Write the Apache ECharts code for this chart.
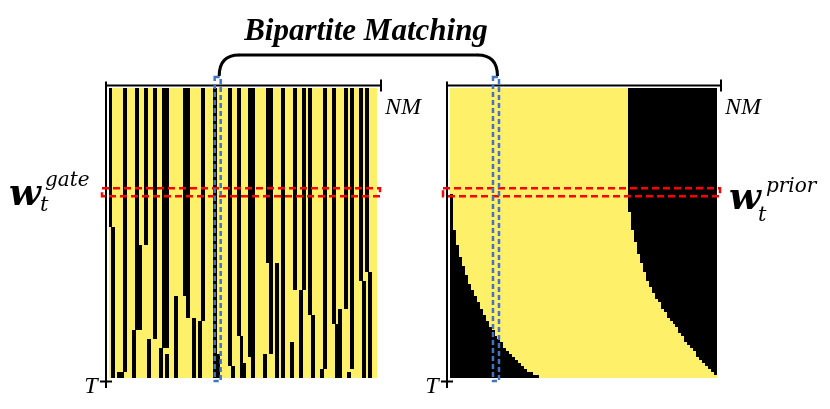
<!DOCTYPE html>
<html><head><meta charset="utf-8">
<script src="https://cdn.jsdelivr.net/npm/echarts@6/dist/echarts.min.js"></script>
<style>html,body{margin:0;padding:0;background:#fff}#c{width:830px;height:409px}</style>
</head><body><div id="c"></div>
<script>
// ---- data (grid units: columns 0..NM, rows 0..T) ----
const NM = 90, T = 96;
// gate map: black segments [column, width, startRow, endRow]
const gateSegments = [
  [0,1,0,46],[1,1,46,96],[3,1,94,96],
  [5,1,0,94],[4,1,94,96],
  [9,1,0,52],[9,2,52,80],[8,1,80,96],
  [12,1,0,52],
  [15,1,0,83],[13,1,83,96],
  [18,2,0,86],[17,1,86,96],[19,1,88,96],
  [25,2,0,69],[26,1,69,76],[22,1,69,96],[28,1,76,96],
  [31,1,0,77],[30,1,77,96],
  [35,1,0,96],[36,1,88,96],
  [40,1,0,92],[41,1,92,96],
  [43,1,0,82],[44,1,82,96],[45,1,91,96],
  [47,2,0,89],[48,1,89,96],
  [53,2,0,58],[54,1,58,88],[52,1,88,96],
  [58,1,0,96],[56,1,58,96],
  [62,1,0,67],[65,1,0,67],[64,1,67,96],[61,1,84,96],
  [67,1,0,75],[68,1,75,96],
  [72,1,0,93],[71,1,93,96],
  [75,1,0,78],[77,1,73,78],[76,2,78,96],
  [79,1,0,73],
  [81,1,0,93],[80,1,94,96],
  [84,1,0,64],[85,1,64,96],
  [86,1,0,61],[87,1,61,96]
];
// prior map: rows above priorSplitRow are black from priorTopEdge to NM
const priorSplitRow = 35, priorTopEdge = 60;
const priorRows = [35,36,37,38,39,40,41,42,43,44,45,46,47,48,49,50,51,52,53,54,55,56,57,58,59,60,61,62,63,64,65,66,67,68,69,70,71,72,73,74,75,76,77,78,79,80,81,82,83,84,85,86,87,88,89,90,91,92,93,94,95];
const priorLeftEdge = [1,1,1,1,1,1,1,1,1,1,1,1,2,2,2,2,2,3,3,3,3,4,4,4,5,5,5,6,6,6,7,7,8,8,9,9,10,10,11,11,12,12,13,13,14,15,15,16,17,18,18,19,20,21,22,23,24,25,26,28,30];
const priorRightEdge = [60,60,60,60,60,60,61,61,61,61,61,61,62,62,62,62,63,63,63,63,64,64,64,65,65,65,66,66,66,67,67,68,68,69,69,70,71,71,72,73,73,74,75,76,77,77,78,79,79,80,81,82,83,83,84,85,86,87,88,89,90];
const matchedColGate = 36, matchedColPrior = 15, highlightRow = 34;
const titleText = 'Bipartite Matching';

// ---- build ----
const YELLOW = '#FFF06A';
const chart = echarts.init(document.getElementById('c'), null, {renderer: 'canvas'});

const priorData = [[0, priorSplitRow, 0, priorTopEdge]];
priorRows.forEach((r, i) => priorData.push([r, r + 1, priorLeftEdge[i], priorRightEdge[i]]));

function rectFrom(a, b, widen) {
  const x0 = widen ? Math.floor(a[0]) : Math.round(a[0]);
  const x1 = widen ? Math.ceil(b[0]) : Math.round(b[0]);
  const y0 = Math.round(a[1]), y1 = Math.round(b[1]);
  return {type: 'rect', shape: {x: x0, y: y0, width: x1 - x0, height: y1 - y0}, style: {fill: '#000'}};
}

const option = {
  animation: false,
  backgroundColor: '#fff',
  grid: [
    {left: 109, top: 88, width: 268, height: 290, show: true, backgroundColor: YELLOW, borderWidth: 0},
    {left: 450, top: 88, width: 267, height: 290, show: true, backgroundColor: YELLOW, borderWidth: 0}
  ],
  xAxis: [
    {gridIndex: 0, type: 'value', min: 0, max: NM, show: false},
    {gridIndex: 1, type: 'value', min: 0, max: NM, show: false}
  ],
  yAxis: [
    {gridIndex: 0, type: 'value', min: 0, max: T, inverse: true, show: false},
    {gridIndex: 1, type: 'value', min: 0, max: T, inverse: true, show: false}
  ],
  series: [
    {
      type: 'custom', xAxisIndex: 0, yAxisIndex: 0, data: gateSegments,
      renderItem: function (params, api) {
        const c = api.value(0), w = api.value(1), r0 = api.value(2), r1 = api.value(3);
        return rectFrom(api.coord([c, r0]), api.coord([c + w, r1]), true);
      }
    },
    {
      type: 'custom', xAxisIndex: 1, yAxisIndex: 1, data: priorData,
      renderItem: function (params, api) {
        const r0 = api.value(0), r1 = api.value(1), L = api.value(2), R = api.value(3);
        const children = [];
        if (L > 0) children.push(rectFrom(api.coord([0, r0]), api.coord([L, r1])));
        if (R < NM) children.push(rectFrom(api.coord([R, r0]), api.coord([NM, r1])));
        return {type: 'group', children: children};
      }
    }
  ]
};
chart.setOption(option);

function px(g, x, y) { return chart.convertToPixel({gridIndex: g}, [x, y]); }
function line(x1, y1, x2, y2, w, z) {
  return {type: 'line', shape: {x1, y1, x2, y2}, style: {stroke: '#000', lineWidth: w}, z: z || 5};
}
function txt(x, y, text, font, align, z) {
  return {type: 'text', x: x, y: y, z: z || 20,
    style: {text: text, font: font, fill: '#000', align: align || 'left', verticalAlign: 'middle',
            textAlign: align || 'left', textVerticalAlign: 'middle'}};
}

const gfx = [];
const centers = [];
[0, 1].forEach(g => {
  const tl = px(g, 0, 0), br = px(g, NM, T);
  const ax = tl[0] - 3, ay = tl[1] - 2.5;
  gfx.push(line(ax, ay, br[0] + 4, ay, 2));
  gfx.push(line(br[0] + 4, ay - 6, br[0] + 4, ay + 6, 2));
  gfx.push(line(ax, ay - 4, ax, br[1] + 10, 2));
  gfx.push(line(ax - 6, br[1] + 3.5, ax + 6, br[1] + 3.5, 2));
  const yc = px(g, 0, highlightRow + 0.5)[1];
  gfx.push({type: 'rect', z: 10, shape: {x: tl[0] - 7, y: yc - 4, width: br[0] - tl[0] + 10, height: 8},
    style: {fill: null, stroke: '#FF0000', lineWidth: 2.5, lineDash: [7, 4]}});
  const col = g === 0 ? matchedColGate : matchedColPrior;
  const cx = px(g, col + 0.5, 0)[0];
  centers.push(cx);
  gfx.push({type: 'rect', z: 11, shape: {x: cx - 3, y: tl[1] - 11, width: 6, height: br[1] - tl[1] + 14},
    style: {fill: null, stroke: '#4472C4', lineWidth: 2.5, lineDash: [5, 3]}});
  // labels NM and T
  gfx.push(txt(br[0] + 8, tl[1] + 20, 'NM', 'italic 24px "Liberation Serif"', 'left'));
  gfx.push(txt(ax - 15, br[1] + 9, 'T', 'italic 24px "Liberation Serif"', 'center'));
});
// brace
const lx = centers[0] + 1.5, rx = centers[1] + 1.5, topY = 55, endY = 76;
gfx.push({type: 'bezierCurve', z: 12, shape: {x1: lx, y1: endY, cpx1: lx, cpy1: topY, x2: lx + 20, y2: topY},
  style: {stroke: '#000', lineWidth: 3, fill: null}});
gfx.push(line(lx + 19.5, topY, rx - 19.5, topY, 3, 12));
gfx.push({type: 'bezierCurve', z: 12, shape: {x1: rx - 20, y1: topY, cpx1: rx, cpy1: topY, x2: rx, y2: endY},
  style: {stroke: '#000', lineWidth: 3, fill: null}});
// title
gfx.push(txt(366, 32, titleText, 'italic bold 31px "Liberation Serif"', 'center'));
// w labels
gfx.push(txt(9, 195, 'w', 'italic bold 37px "DejaVu Serif"', 'left'));
gfx.push(txt(45, 181, 'gate', 'italic 20px "DejaVu Serif"', 'left'));
gfx.push(txt(40, 206, 't', 'italic 21px "DejaVu Serif"', 'left'));
gfx.push(txt(729, 199, 'w', 'italic bold 37px "DejaVu Serif"', 'left'));
gfx.push(txt(766, 187, 'prior', 'italic 20px "DejaVu Serif"', 'left'));
gfx.push(txt(758, 216, 't', 'italic 21px "DejaVu Serif"', 'left'));

chart.setOption({graphic: {elements: gfx}});
</script>
</body></html>
